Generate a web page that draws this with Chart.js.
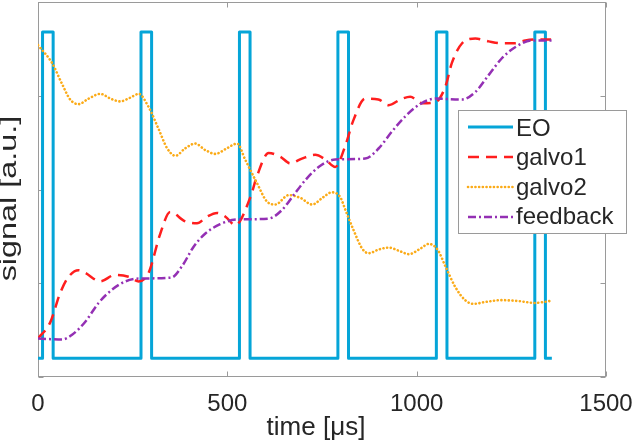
<!DOCTYPE html>
<html>
<head>
<meta charset="utf-8">
<script src="https://cdn.jsdelivr.net/npm/chart.js@4/dist/chart.umd.min.js"></script>
<style>
html,body{margin:0;padding:0;background:#fff;}
#c{display:block;}
</style>
</head>
<body>
<canvas id="c" width="635" height="445"></canvas>
<script>
// ---- data ----
const xTickValues = [0, 500, 1000, 1500];
const yTickValues = [0, 1, 2, 3, 4];

const eoTime   = [0,12,12,40,40, 272,272,300,300, 532,532,560,560, 792,792,820,820, 1052,1052,1080,1080, 1312,1312,1340,1340, 1357];
const eoSignal = [0.2,0.2,3.68,3.68,0.2, 0.2,3.68,3.68,0.2, 0.2,3.68,3.68,0.2, 0.2,3.68,3.68,0.2, 0.2,3.68,3.68,0.2, 0.2,3.68,3.68,0.2, 0.2];

const galvo1Time   = [0,32,59,81,107,125,164,204,239,266,292,323,349,389,420,446,473,495,521,561,578,609,640,666,697,732,759,785,811,833,864,899,926,957,983,1014,1049,1076,1093,1120,1155,1190,1225,1260,1287,1313,1355];
const galvo1Signal = [0.41,0.58,0.90,1.07,1.14,1.11,1.02,1.09,1.07,1.02,1.11,1.53,1.76,1.66,1.64,1.71,1.75,1.71,1.62,1.92,2.14,2.39,2.35,2.28,2.33,2.37,2.32,2.24,2.46,2.74,2.97,2.96,2.90,2.96,2.99,2.92,2.93,3.10,3.35,3.56,3.61,3.58,3.56,3.56,3.59,3.60,3.60];

const galvo2Time   = [0,37,63,85,107,134,165,191,217,244,266,292,319,341,363,389,415,442,468,499,526,547,578,605,627,662,693,724,754,776,798,812,833,856,873,900,926,957,979,1010,1032,1055,1076,1102,1128,1150,1181,1225,1269,1312,1352];
const galvo2Signal = [3.54,3.35,3.13,2.96,2.91,2.97,3.02,2.97,2.94,2.98,3.02,2.88,2.64,2.44,2.36,2.44,2.49,2.42,2.38,2.44,2.49,2.32,2.07,1.87,1.84,1.94,1.91,1.84,1.92,1.97,1.92,1.78,1.57,1.37,1.32,1.36,1.38,1.34,1.31,1.37,1.42,1.36,1.18,0.96,0.82,0.78,0.80,0.82,0.81,0.79,0.81];

const feedbackTime   = [0,63,90,125,160,195,231,266,352,380,411,442,481,526,609,644,675,706,741,785,864,900,935,970,1005,1049,1120,1155,1190,1225,1261,1305,1357];
const feedbackSignal = [0.41,0.40,0.45,0.59,0.79,0.93,1.02,1.05,1.06,1.18,1.39,1.53,1.63,1.68,1.69,1.78,1.94,2.10,2.24,2.32,2.33,2.44,2.62,2.78,2.90,2.97,2.96,3.04,3.22,3.40,3.52,3.59,3.59];

const seriesLabels = ['EO', 'galvo1', 'galvo2', 'feedback'];

// ---- styling ----
const FONT = '"Liberation Sans", Arial, sans-serif';
const AXIS_COLOR = '#9a9a9a';
const TEXT_COLOR = '#262626';

function pts(t, v) { return t.map((tt, i) => ({ x: tt, y: v[i] })); }

const framePlugin = {
  id: 'frame',
  beforeDraw(chart) {
    const y = chart.scales.y, x = chart.scales.x;
    if (y && !y.__patched) {
      const orig = y.drawTitle;
      y.drawTitle = function () {
        const c = this.ctx, cy = (this.top + this.bottom) / 2;
        c.save(); c.translate(0, cy + 9); c.scale(1, 1.35); c.translate(0, -cy);
        orig.call(this); c.restore();
      };
      y.__patched = true;
    }
    if (x && !x.__patched) {
      const origX = x.drawTitle;
      x.drawTitle = function () {
        const c = this.ctx;
        c.save(); c.translate(-6, 0); origX.call(this); c.restore();
      };
      x.__patched = true;
    }
  },
  beforeDatasetsDraw(chart) {
    const { ctx, chartArea: a, scales: { x, y } } = chart;
    ctx.save();
    ctx.strokeStyle = AXIS_COLOR; ctx.lineWidth = 1;
    const L = Math.round(a.left) + 0.5, R = Math.round(a.right) - 0.5;
    const T = Math.round(a.top) + 0.5, B = Math.round(a.bottom) - 0.5;
    ctx.strokeRect(L, T, R - L, B - T);
    const tl = 5;
    ctx.beginPath();
    x.ticks.forEach(t => {
      const px = Math.round(x.getPixelForValue(t.value)) + 0.5;
      ctx.moveTo(px, B); ctx.lineTo(px, B - tl);
      ctx.moveTo(px, T); ctx.lineTo(px, T + tl);
    });
    y.ticks.forEach(t => {
      const py = Math.round(y.getPixelForValue(t.value)) + 0.5;
      ctx.moveTo(L, py); ctx.lineTo(L + tl, py);
      ctx.moveTo(R, py); ctx.lineTo(R - tl, py);
    });
    ctx.stroke();
    ctx.restore();
  },
  afterDraw(chart) {
    const ctx = chart.ctx;
    ctx.save();
    const bx = 458.5, by = 110.5, bw = 168, bh = 123;
    ctx.fillStyle = '#ffffff'; ctx.fillRect(bx, by, bw, bh);
    ctx.strokeStyle = AXIS_COLOR; ctx.lineWidth = 1; ctx.strokeRect(bx, by, bw, bh);
    chart.data.datasets.forEach((ds, i) => {
      const ly = 127 + 30 * i;
      ctx.beginPath();
      ctx.setLineDash(ds.borderDash || []);
      ctx.lineCap = ds.borderCapStyle || 'butt';
      ctx.strokeStyle = ds.borderColor; ctx.lineWidth = ds.borderWidth;
      ctx.moveTo(468, ly); ctx.lineTo(513, ly); ctx.stroke();
      ctx.setLineDash([]);
      ctx.fillStyle = TEXT_COLOR;
      ctx.font = '24px ' + FONT;
      ctx.textBaseline = 'alphabetic'; ctx.textAlign = 'left';
      ctx.fillText(ds.label, 516, 136 + 29.4 * i);
    });
    ctx.restore();
  }
};

new Chart(document.getElementById('c'), {
  type: 'line',
  data: {
    datasets: [
      { label: seriesLabels[0], data: pts(eoTime, eoSignal), borderColor: '#05a5d8', borderWidth: 3, tension: 0, order: 4, borderJoinStyle: 'round' },
      { label: seriesLabels[1], data: pts(galvo1Time, galvo1Signal), borderColor: '#ff1e1e', borderWidth: 2.5, borderDash: [11, 7], cubicInterpolationMode: 'monotone', order: 3 },
      { label: seriesLabels[2], data: pts(galvo2Time, galvo2Signal), borderColor: '#fbab18', borderWidth: 2.6, borderDash: [0.1, 3.6], borderCapStyle: 'round', cubicInterpolationMode: 'monotone', order: 2 },
      { label: seriesLabels[3], data: pts(feedbackTime, feedbackSignal), borderColor: '#9430b4', borderWidth: 2.5, borderDash: [8, 3, 2, 3], cubicInterpolationMode: 'monotone', order: 1 }
    ]
  },
  options: {
    responsive: false,
    animation: false,
    devicePixelRatio: 1,
    layout: { padding: { top: 2, right: 29, left: 0, bottom: 0 } },
    elements: { point: { radius: 0, hoverRadius: 0 } },
    plugins: { legend: { display: false }, tooltip: { enabled: false } },
    scales: {
      x: {
        type: 'linear', min: 0, max: 1500,
        afterBuildTicks(s) { s.ticks = xTickValues.map(v => ({ value: v })); },
        ticks: { font: { family: FONT, size: 24 }, color: TEXT_COLOR, padding: 5, maxRotation: 0, autoSkip: false, callback: v => String(v) },
        grid: { display: false }, border: { display: false },
        title: { display: true, text: 'time [μs]', color: TEXT_COLOR, font: { family: FONT, size: 26, lineHeight: 1.2 }, padding: { top: 0, bottom: 2 } },
        afterFit(s) { s.height = 68; s.paddingLeft = 0; s.paddingRight = 0; }
      },
      y: {
        type: 'linear', min: 0, max: 4,
        afterBuildTicks(s) { s.ticks = yTickValues.map(v => ({ value: v })); },
        ticks: { display: false },
        grid: { display: false }, border: { display: false },
        title: { display: true, text: 'signal [a.u.]', color: TEXT_COLOR, font: { family: FONT, size: 24, lineHeight: 0.8 }, padding: 0 },
        afterFit(s) { s.width = 38; s.paddingTop = 0; s.paddingBottom = 0; }
      }
    }
  },
  plugins: [framePlugin]
});
</script>
</body>
</html>
